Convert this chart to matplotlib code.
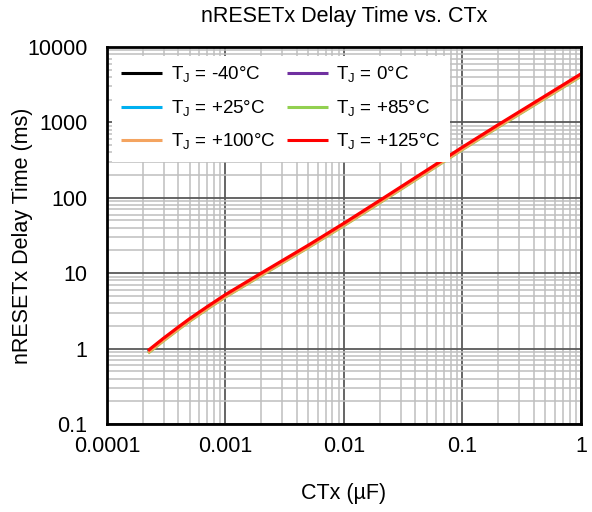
#!/usr/bin/env python3
# -*- coding: utf-8 -*-

import matplotlib
matplotlib.use("Agg")
import matplotlib.pyplot as plt
from matplotlib.ticker import LogLocator, NullFormatter

plt.rcParams["font.family"] = ["Liberation Sans", "DejaVu Sans"]
plt.rcParams["mathtext.fontset"] = "custom"
plt.rcParams["mathtext.rm"] = "Liberation Sans"

# ---- data ----------------------------------------------------------------
ctx_uf = [0.000222, 0.0003, 0.0004, 0.0005, 0.0007, 0.001, 0.002, 0.005,
          0.01, 0.02, 0.05, 0.1, 0.2, 0.5, 1.0]

delay_m40 = [0.91, 1.33, 1.87, 2.42, 3.48, 5.04, 9.7, 22.8, 44.6, 89.2, 225, 456, 902, 2183, 4268]
delay_0   = [0.91, 1.32, 1.86, 2.41, 3.46, 5.02, 9.65, 22.7, 44.4, 88.8, 224, 454, 897, 2171, 4246]
delay_25  = [0.90, 1.31, 1.85, 2.40, 3.45, 4.99, 9.6, 22.6, 44.2, 88.3, 223, 451, 893, 2160, 4224]
delay_85  = [0.87, 1.27, 1.79, 2.32, 3.34, 4.84, 9.3, 21.9, 42.8, 85.6, 216, 437, 865, 2093, 4092]
delay_100 = [0.89, 1.29, 1.82, 2.36, 3.39, 4.91, 9.45, 22.2, 43.5, 87.0, 219, 444, 879, 2126, 4158]
delay_125 = [0.94, 1.37, 1.93, 2.50, 3.59, 5.2, 10.0, 23.5, 46.0, 92.0, 232, 470, 930, 2250, 4400]

series_labels = [r"T$_\mathregular{J}$ = -40°C", r"T$_\mathregular{J}$ = 0°C",
                 r"T$_\mathregular{J}$ = +25°C", r"T$_\mathregular{J}$ = +85°C",
                 r"T$_\mathregular{J}$ = +100°C", r"T$_\mathregular{J}$ = +125°C"]
series_colors = ["#000000", "#7030a0", "#00b0f0", "#92d050", "#f4a460", "#ff0000"]

x_ticks = [0.0001, 0.001, 0.01, 0.1, 1]
x_tick_labels = ["0.0001", "0.001", "0.01", "0.1", "1"]
y_ticks = [0.1, 1, 10, 100, 1000, 10000]
y_tick_labels = ["0.1", "1", "10", "100", "1000", "10000"]

FS = 15.5
LEG_FS = 13.5

fig = plt.figure(figsize=(5.92, 5.12), dpi=100)
ax = fig.add_axes([0.1807, 0.1719, 0.8007, 0.7363])

all_series = [delay_m40, delay_0, delay_25, delay_85, delay_100, delay_125]
handles = []
for i, ys in enumerate(all_series):
    (ln,) = ax.plot(ctx_uf, ys, color=series_colors[i], lw=2.3,
                    solid_capstyle="butt", label=series_labels[i], zorder=3 + i)
    handles.append(ln)

ax.set_xscale("log")
ax.set_yscale("log")
ax.set_xlim(0.0001, 1)
ax.set_ylim(0.1, 10000)

ax.set_xticks(x_ticks, x_tick_labels)
ax.set_yticks(y_ticks, y_tick_labels)
ax.xaxis.set_minor_locator(LogLocator(base=10, subs=range(2, 10)))
ax.yaxis.set_minor_locator(LogLocator(base=10, subs=range(2, 10)))
ax.xaxis.set_minor_formatter(NullFormatter())
ax.yaxis.set_minor_formatter(NullFormatter())
ax.tick_params(which="both", length=0, labelsize=FS)
ax.tick_params(axis="x", pad=9)
ax.tick_params(axis="y", pad=14)

ax.grid(which="minor", color="#bfbfbf", lw=1.1, zorder=0)
ax.grid(which="major", color="#595959", lw=1.3, zorder=1)
ax.set_axisbelow(True)
for sp in ax.spines.values():
    sp.set_linewidth(2)
    sp.set_color("black")
    sp.set_zorder(10)

ax.set_title("nRESETx Delay Time vs. CTx", fontsize=FS, pad=18)
ax.set_xlabel("CTx (µF)", fontsize=FS)
ax.set_ylabel("nRESETx Delay Time (ms)", fontsize=FS)
ax.xaxis.set_label_coords(0.5, -0.156)
ax.yaxis.set_label_coords(-0.157, 0.5)

# legend reads row-wise in the reference: (-40, 0), (+25, +85), (+100, +125)
leg_order = [0, 2, 4, 1, 3, 5]
leg = ax.legend(handles=[handles[i] for i in leg_order], ncol=2, loc="upper left",
                bbox_to_anchor=(0.0099, 0.977), borderaxespad=0.0,
                fontsize=LEG_FS, frameon=True, fancybox=False, framealpha=1,
                edgecolor="white", borderpad=0.5,
                handlelength=2.2, handletextpad=0.45, columnspacing=0.6,
                labelspacing=0.7)
leg.get_frame().set_linewidth(0)
leg.set_zorder(20)
for ln in leg.get_lines():
    ln.set_linewidth(2.2)

fig.savefig("out.png", dpi=100)
